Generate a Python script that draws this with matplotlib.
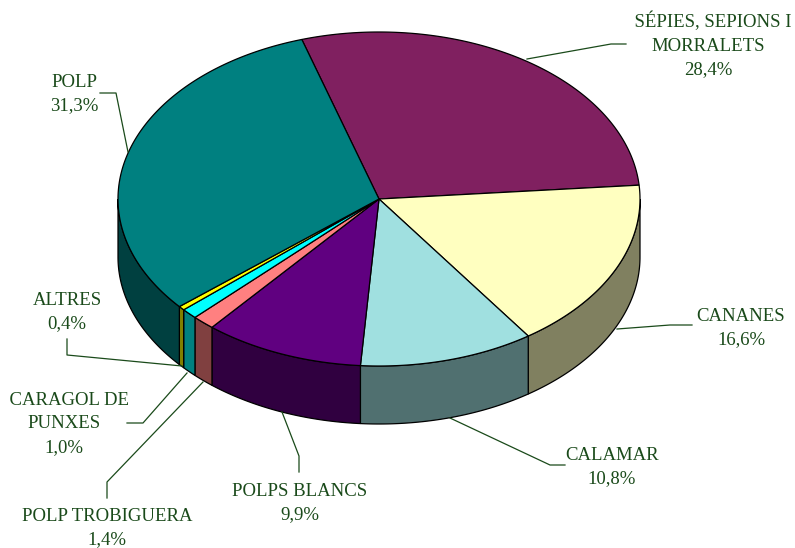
#!/usr/bin/python3
import matplotlib
matplotlib.use('Agg')
import matplotlib.pyplot as plt
import numpy as np

names = ['  SÉPIES, SEPIONS I\nMORRALETS', 'CANANES', 'CALAMAR', 'POLPS BLANCS',
         'POLP TROBIGUERA', '  CARAGOL DE\nPUNXES', 'ALTRES', 'POLP']
values = [28.4, 16.6, 10.8, 9.9, 1.4, 1.0, 0.4, 31.3]

top_colors = ['#802060', '#FFFFC0', '#A0E0E0', '#600080', '#FF8080', '#00FFFF', '#FFFF00', '#008080']
side_colors = ['#401030', '#808060', '#507070', '#300040', '#804040', '#008080', '#808000', '#004040']

label_pos = [(708, 45), (741, 328), (612, 467), (300, 503), (107, 528), (64, 424), (67, 312), (74, 94)]
leaders = [
    [(626, 44), (611, 44), (527, 59)],
    [(692, 325), (670, 325), (617, 329)],
    [(565, 465), (550, 465), (450, 418)],
    [(299, 472), (299, 456), (282, 412)],
    [(107, 498), (107, 482), (203, 382)],
    [(127, 423), (143, 423), (187, 373)],
    [(67, 339), (67, 355), (182, 366)],
    [(100, 93), (116, 93), (128, 152)],
]

cx, cy = 379, 199
rx, ry = 261, 167
depth = 58
start_angle = 107.2
text_color = '#1a4a1a'

fig = plt.figure(figsize=(7.95, 5.48), dpi=100)
ax = fig.add_axes([0, 0, 1, 1])
ax.set_xlim(0, 795)
ax.set_ylim(548, 0)
ax.axis('off')


def rim(a1, a2):
    # a1 > a2, clockwise on screen
    n = max(int(abs(a1 - a2) * 2), 2)
    t = np.radians(np.linspace(a1, a2, n))
    return cx + rx * np.cos(t), cy - ry * np.sin(t)


fracs = np.array(values) / sum(values) * 360
ends = start_angle - np.cumsum(fracs)
starts = ends + fracs

# side walls, only the front half of the rim shows
for a1, a2, col in zip(starts, ends, side_colors):
    hi = min(a1, 0)
    lo = max(a2, -180)
    if hi <= lo:
        continue
    x, y = rim(hi, lo)
    xs = np.concatenate([x, x[::-1]])
    ys = np.concatenate([y, y[::-1] + depth])
    ax.fill(xs, ys, facecolor=col, edgecolor='black', linewidth=0.9, zorder=2)

for a1, a2, col in zip(starts, ends, top_colors):
    x, y = rim(a1, a2)
    xs = np.concatenate([[cx], x])
    ys = np.concatenate([[cy], y])
    ax.fill(xs, ys, facecolor=col, edgecolor='black', linewidth=0.9, zorder=3)

for pts in leaders:
    px, py = zip(*pts)
    ax.plot(px, py, color=text_color, linewidth=0.9, zorder=4)

for name, val, (lx, ly) in zip(names, values, label_pos):
    txt = name + '\n' + ('%.1f' % val).replace('.', ',') + '%'
    ax.text(lx, ly, txt, ha='center', va='center', multialignment='center',
            family='Liberation Serif', fontsize=13.5, color=text_color, linespacing=1.5)

fig.savefig('out.png', dpi=100)
